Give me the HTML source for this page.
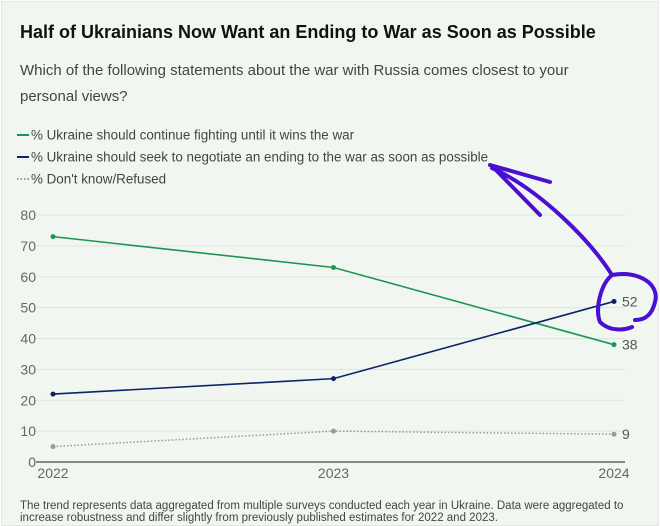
<!DOCTYPE html>
<html><head><meta charset="utf-8"><style>
body{margin:0;width:660px;height:525px;background:#fff;font-family:"Liberation Sans",sans-serif;overflow:hidden}
#card{position:absolute;left:1px;top:1px;width:656px;height:523px;background:#f1f7f0;border:1px solid #e4e8e4}
.t{position:absolute;white-space:nowrap}
</style></head><body>
<div id="card"></div>
<div class="t" style="left:20px;top:22px;font-size:18px;font-weight:bold;color:#111">Half of Ukrainians Now Want an Ending to War as Soon as Possible</div>
<div class="t" style="left:20px;top:58px;font-size:15px;color:#444;line-height:26px">Which of the following statements about the war with Russia comes closest to your<br>personal views?</div>
<svg id="chart" width="660" height="525" style="position:absolute;left:0;top:0"></svg>
<div class="t" style="left:20px;top:500px;font-size:11.5px;color:#444;line-height:12px">The trend represents data aggregated from multiple surveys conducted each year in Ukraine. Data were aggregated to<br>increase robustness and differ slightly from previously published estimates for 2022 and 2023.</div>
<script>
const years=["2022","2023","2024"];
const fight=[73,63,38];
const negotiate=[22,27,52];
const dontKnow=[5,10,9];
const yTicks=[0,10,20,30,40,50,60,70,80];
const legendLabels=["% Ukraine should continue fighting until it wins the war","% Ukraine should seek to negotiate an ending to the war as soon as possible","% Don't know/Refused"];
const NS="http://www.w3.org/2000/svg";
const svg=document.getElementById('chart');
function x(i){return 53+i*(614-53)/(years.length-1);}
function y(v){return 462-v*(462-215)/80;}
function mk(t,a,p){const e=document.createElementNS(NS,t);for(const k in a)e.setAttribute(k,a[k]);(p||svg).appendChild(e);return e;}
const lc=["#1a9652","#0d2366","#999"];
legendLabels.forEach((l,i)=>{
 const g=mk('g',{});
 
 
 const ly=135+i*22;
 mk('line',{x1:17,x2:29,y1:ly,y2:ly,stroke:lc[i],'stroke-width':2,'stroke-dasharray':i==2?'1.5 2':'none'},g);
 const t=mk('text',{x:31,y:ly+4.5,'font-size':13.4,fill:'#444'},g);t.textContent=l;
});
yTicks.forEach(v=>{
 const l=mk('line',{x1:36,x2:625,y1:y(v),y2:y(v),stroke:v==0?'#888':'#dde5dd','stroke-width':v==0?2:1});
 
 
 const t=mk('text',{x:36,y:y(v)+5,'font-size':14,fill:'#666','text-anchor':'end'});t.textContent=v;
 
 
});
years.forEach((yr,i)=>{
 const t=mk('text',{x:x(i),y:478,'font-size':14,fill:'#666','text-anchor':'middle'});t.textContent=yr;
 
 
});
function series(d,c,w,dash,name){
 const p=mk('polyline',{points:d.map((v,i)=>x(i)+','+y(v)).join(' '),fill:'none',stroke:c,'stroke-width':w,'stroke-dasharray':dash});
 
 
 d.forEach((v,i)=>{const m=mk('circle',{cx:x(i),cy:y(v),r:2.5,fill:c});
  
  });
 const n=d.length-1;const t=mk('text',{x:x(n)+8,y:y(d[n])+5,'font-size':14,fill:'#555'});t.textContent=d[n];
 
 
}
series(fight,'#1a9652',1.6,'none','fight');
series(negotiate,'#0d2366',1.6,'none','negotiate');
series(dontKnow,'#999',1.5,'1.5 2','dont-know');
const a=mk('path',{d:'M490 165 L550 182 M493 167 L540 215 M492 168 C540 190 590 240 612 275 C600 285 595 310 600 322 C610 332 625 330 632 327 M612 275 C640 270 660 285 655 302 C652 315 645 320 635 320',fill:'none',stroke:'#4a0fd0','stroke-width':4,'stroke-linecap':'round'});


</script>
</body></html>
